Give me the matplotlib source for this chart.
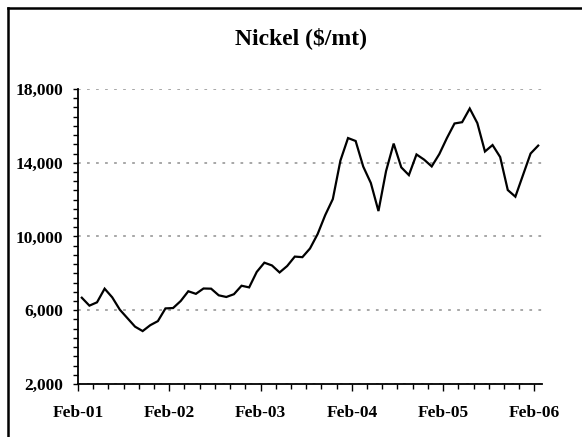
import numpy as np
import matplotlib
matplotlib.use("Agg")
import matplotlib.pyplot as plt
from matplotlib.lines import Line2D
from matplotlib.ticker import MultipleLocator, FuncFormatter

# monthly nickel price, Feb-01 .. Feb-06
nickel = [6680, 6250, 6430, 7170, 6700, 6030, 5570, 5110, 4870, 5190,
          5410, 6100, 6120, 6500, 7030, 6890, 7180, 7170, 6810, 6720,
          6870, 7330, 7240, 8080, 8580, 8430, 8050, 8400, 8910, 8880,
          9350, 10130, 11160, 12030, 14120, 15340, 15180, 13790, 12900, 11380,
          13550, 15040, 13750, 13330, 14450, 14170, 13800, 14470, 15340, 16130,
          16200, 16940, 16150, 14610, 14960, 14310, 12520, 12160, 13330, 14500,
          14930]
year_labels = ['Feb-01', 'Feb-02', 'Feb-03', 'Feb-04', 'Feb-05', 'Feb-06']
y_ticks = [2000, 6000, 10000, 14000, 18000]
title = 'Nickel ($/mt)'

serif = 'Liberation Serif'

fig = plt.figure(figsize=(5.82, 4.37), dpi=100)
fig.patch.set_facecolor('white')
ax = fig.add_axes([78/582, 1-384/437, 464/582, 295/437])

months = np.arange(len(nickel)) + 0.5   # plotted mid-month
ax.plot(months, nickel, color='black', lw=1.6, solid_joinstyle='miter')

ax.set_xlim(0, 61)
ax.set_ylim(2000, 18000)

for s in ['top', 'right']:
    ax.spines[s].set_visible(False)
for s in ['left', 'bottom']:
    ax.spines[s].set_linewidth(1.3)

ax.set_yticks(y_ticks)
ax.yaxis.set_minor_locator(MultipleLocator(500))
ax.yaxis.set_major_formatter(FuncFormatter(lambda v, p: '{:,.0f}'.format(v)))
ax.set_xticks(np.arange(len(year_labels)) * 12)
ax.set_xticklabels(year_labels)
ax.xaxis.set_minor_locator(MultipleLocator(2))

ax.tick_params(axis='y', which='both', direction='out', length=3.5, width=1, pad=7)
ax.tick_params(axis='x', which='major', direction='out', length=5, width=1, pad=10)
ax.tick_params(axis='x', which='minor', direction='out', length=3.5, width=1)
for lab in ax.get_xticklabels() + ax.get_yticklabels():
    lab.set_fontfamily(serif)
    lab.set_fontweight('bold')
    lab.set_fontsize(12.5)

ax.yaxis.grid(True, color='#a0a0a0', lw=1.3, linestyle=(0, (1.5, 3.5)))
ax.set_axisbelow(True)

fig.text(301/582, 1-38/437, title, ha='center', va='center',
         fontsize=17, fontweight='bold', fontfamily=serif)

# frame (left and top edges)
fig.add_artist(Line2D([8/582, 8/582], [0, 1-8/437], transform=fig.transFigure,
                      color='black', lw=1.8))
fig.add_artist(Line2D([8/582, 1], [1-8/437, 1-8/437], transform=fig.transFigure,
                      color='black', lw=1.8))

fig.savefig('out.png', dpi=100)
